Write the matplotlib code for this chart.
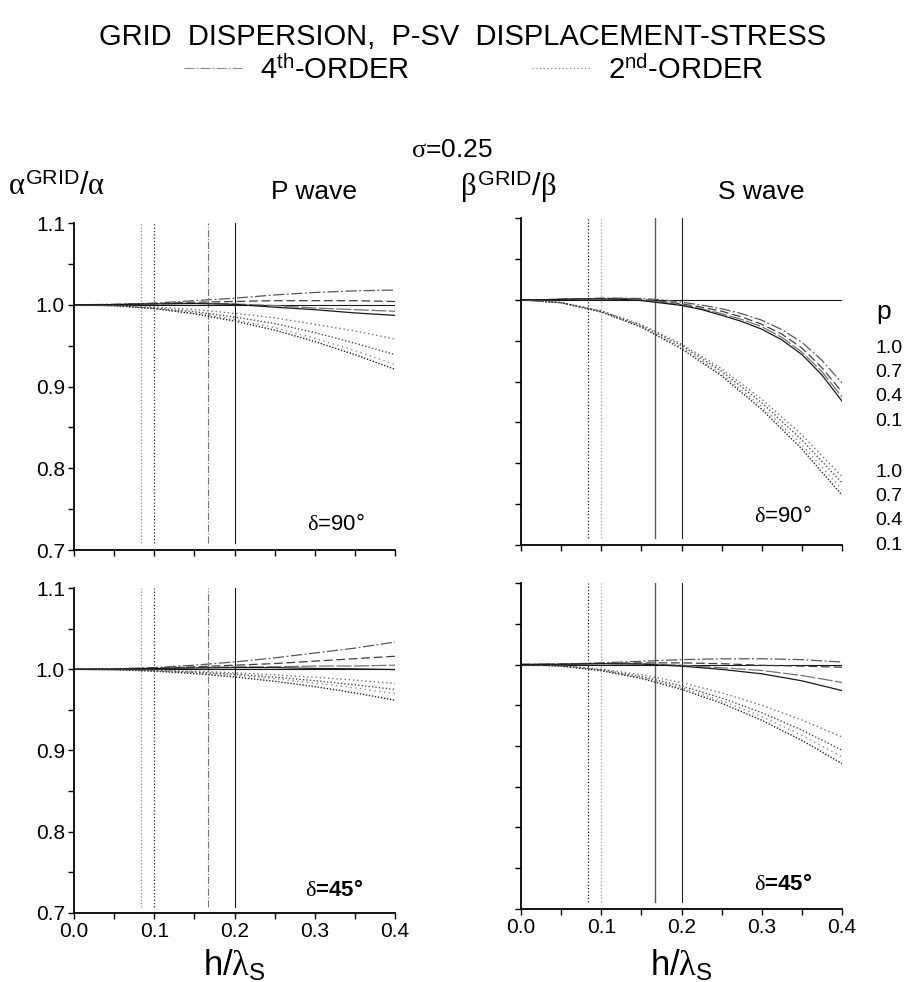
import matplotlib
matplotlib.use("Agg")
import matplotlib.pyplot as plt
from matplotlib.lines import Line2D
from matplotlib.ticker import MultipleLocator, FormatStrFormatter, NullFormatter

plt.rcParams["font.family"] = ["Liberation Sans", "DejaVu Sans"]
plt.rcParams["mathtext.fontset"] = "custom"
plt.rcParams["mathtext.rm"] = "Liberation Sans"
plt.rcParams["mathtext.it"] = "Liberation Serif"
plt.rcParams["mathtext.bf"] = "Liberation Sans:bold"

# ---------------------------------------------------------------- data
# normalised grid spacing h / lambda_S
h_coarse = [0.00, 0.05, 0.10, 0.15, 0.20, 0.25, 0.30, 0.35, 0.40]
h_fine = [0.000, 0.025, 0.050, 0.075, 0.100, 0.125, 0.150, 0.175, 0.200,
          0.225, 0.250, 0.275, 0.300, 0.325, 0.350, 0.375, 0.400]

p_values = ["1.0", "0.7", "0.4", "0.1"]

# sampling marks: 12, 10, 6 and 5 grid points per wavelength
ppw_marks = [0.0833, 0.1000, 0.1667, 0.2000]

# P wave, delta = 90 deg
p90_4th = [
    [1.0, 1.0005, 1.002, 1.005, 1.008, 1.012, 1.015, 1.017, 1.018],
    [1.0, 1.0003, 1.0015, 1.003, 1.004, 1.005, 1.005, 1.005, 1.004],
    [1.0, 1.0002, 1.001, 1.002, 1.001, 0.999, 0.996, 0.994, 0.992],
    [1.0, 1.0002, 1.001, 1.0015, 1.0005, 0.997, 0.994, 0.990, 0.987],
]
p90_2nd = [
    [1.0, 0.9993, 0.9974, 0.9941, 0.9895, 0.984, 0.976, 0.968, 0.958],
    [1.0, 0.9990, 0.9960, 0.9915, 0.9850, 0.977, 0.966, 0.953, 0.939],
    [1.0, 0.9988, 0.9955, 0.9900, 0.9820, 0.972, 0.959, 0.944, 0.927],
    [1.0, 0.9988, 0.9952, 0.9890, 0.9800, 0.969, 0.955, 0.939, 0.921],
]

# S wave, delta = 90 deg
s90_4th = [
    [1.0, 1.0, 1.0005, 1.001, 1.002, 1.002, 1.0015, 1.000, 0.997,
     0.9935, 0.989, 0.983, 0.975, 0.9635, 0.948, 0.926, 0.898],
    [1.0, 1.0, 1.0005, 1.001, 1.0015, 1.0015, 1.0005, 0.998, 0.995,
     0.991, 0.986, 0.979, 0.970, 0.958, 0.941, 0.917, 0.887],
    [1.0, 1.0, 1.0005, 1.001, 1.001, 1.001, 0.9995, 0.997, 0.994,
     0.989, 0.983, 0.976, 0.967, 0.954, 0.936, 0.912, 0.881],
    [1.0, 1.0, 1.0005, 1.001, 1.001, 1.0005, 0.999, 0.996, 0.993,
     0.988, 0.981, 0.9735, 0.964, 0.951, 0.933, 0.908, 0.876],
]
s90_2nd = [
    [1.0, 0.9966, 0.9865, 0.9696, 0.946, 0.9156, 0.8785, 0.8346, 0.784],
    [1.0, 0.9965, 0.9860, 0.9685, 0.944, 0.9125, 0.8740, 0.8285, 0.776],
    [1.0, 0.9964, 0.9855, 0.9674, 0.942, 0.9094, 0.8695, 0.8224, 0.768],
    [1.0, 0.9963, 0.9851, 0.9665, 0.940, 0.9069, 0.8659, 0.8175, 0.761],
]

# P wave, delta = 45 deg
p45_4th = [
    [1.0, 1.0005, 1.002, 1.005, 1.009, 1.014, 1.020, 1.026, 1.0335],
    [1.0, 1.0004, 1.0015, 1.003, 1.005, 1.007, 1.010, 1.013, 1.016],
    [1.0, 1.0003, 1.001, 1.002, 1.003, 1.003, 1.004, 1.004, 1.005],
    [1.0, 1.0003, 1.001, 1.0015, 1.002, 1.002, 1.001, 1.0005, 0.9996],
]
p45_2nd = [
    [1.0, 0.9997, 0.9989, 0.9975, 0.9956, 0.9932, 0.9902, 0.9866, 0.9825],
    [1.0, 0.9996, 0.9984, 0.9965, 0.9938, 0.9903, 0.9860, 0.9809, 0.975],
    [1.0, 0.9995, 0.9981, 0.9958, 0.9925, 0.9883, 0.9831, 0.9770, 0.970],
    [1.0, 0.9994, 0.9976, 0.9947, 0.9905, 0.9852, 0.9786, 0.9709, 0.962],
]

# S wave, delta = 45 deg
s45_4th = [
    [1.0, 1.0005, 1.002, 1.004, 1.006, 1.007, 1.007, 1.006, 1.003],
    [1.0, 1.0004, 1.0015, 1.002, 1.002, 1.001, 0.999, 0.998, 0.9967],
    [1.0, 1.0003, 1.001, 1.001, 0.999, 0.996, 0.9927, 0.9865, 0.978],
    [1.0, 1.0003, 1.001, 1.0005, 0.998, 0.994, 0.9886, 0.980, 0.968],
]
s45_2nd = [
    [1.0, 0.9986, 0.9944, 0.9875, 0.9778, 0.9653, 0.9500, 0.9319, 0.911],
    [1.0, 0.9984, 0.9934, 0.9852, 0.9737, 0.9589, 0.9409, 0.9195, 0.8949],
    [1.0, 0.9982, 0.9929, 0.9840, 0.9716, 0.9557, 0.9362, 0.9131, 0.8866],
    [1.0, 0.9981, 0.9924, 0.9829, 0.9696, 0.9525, 0.9316, 0.9069, 0.8784],
]

# ---------------------------------------------------------------- styles
FOURTH_STYLES = [
    dict(ls=(0, (9, 2, 1.5, 2)), color="0.35"),
    dict(ls=(0, (7, 3)), color="0.25"),
    dict(ls=(0, (12, 2)), color="0.45"),
    dict(ls="-", color="0.1"),
]
SECOND_STYLES = [
    dict(ls=(0, (1, 2)), color="0.45"),
    dict(ls=(0, (1, 1.5)), color="0.3"),
    dict(ls=(0, (1, 2.5)), color="0.55"),
    dict(ls=(0, (1, 1.2)), color="0.15"),
]
VLINES_P = [(":", "0.55", 0.9), (":", "0.15", 0.9), ("-.", "0.45", 0.8), ("-", "0.1", 0.8)]
VLINES_S = [(":", "0.1", 0.9), (":", "0.6", 0.9), ("-", "0.35", 1.0), ("-", "0.15", 0.8)]

W, H = 905, 982
fig = plt.figure(figsize=(W / 100, H / 100), dpi=100)


def px(x, y):
    return x / W, 1 - y / H


def make_axes(left, top, right, bottom):
    x0, y1 = px(left, top)
    x1, y0 = px(right, bottom)
    return fig.add_axes([x0, y0, x1 - x0, y1 - y0])


def draw_panel(ax, h4, fourth, h2, second, vstyles, show_ylabels, show_xlabels):
    ax.set_xlim(0, 0.4)
    ax.set_ylim(0.7, 1.1)
    for x, (ls, c, lw) in zip(ppw_marks, vstyles):
        ax.axvline(x, ymin=0.02, ymax=1.0, ls=ls, color=c, lw=lw)
    ax.axhline(1.0, color="0.1", lw=0.8)
    for ys, st in zip(second, SECOND_STYLES):
        ax.plot(h2, ys, lw=1.0, **st)
    for ys, st in zip(fourth, FOURTH_STYLES):
        ax.plot(h4, ys, lw=0.9, **st)
    for s in ("top", "right"):
        ax.spines[s].set_visible(False)
    for s in ("left", "bottom"):
        ax.spines[s].set_linewidth(1.3)
    ax.xaxis.set_major_locator(MultipleLocator(0.1))
    ax.xaxis.set_minor_locator(MultipleLocator(0.05))
    ax.yaxis.set_major_locator(MultipleLocator(0.1))
    ax.yaxis.set_minor_locator(MultipleLocator(0.05))
    ax.tick_params(which="both", direction="out", length=4.5, width=1.0,
                   labelsize=15, pad=2)
    ax.xaxis.set_major_formatter(FormatStrFormatter("%.1f") if show_xlabels else NullFormatter())
    ax.yaxis.set_major_formatter(FormatStrFormatter("%.1f") if show_ylabels else NullFormatter())


ax_tl = make_axes(74, 223, 395, 550)
ax_tr = make_axes(521, 218, 842, 545)
ax_bl = make_axes(74, 588, 395, 913)
ax_br = make_axes(521, 583, 842, 909)

draw_panel(ax_tl, h_coarse, p90_4th, h_coarse, p90_2nd, VLINES_P, True, False)
draw_panel(ax_tr, h_fine, s90_4th, h_coarse, s90_2nd, VLINES_S, False, False)
draw_panel(ax_bl, h_coarse, p45_4th, h_coarse, p45_2nd, VLINES_P, True, True)
draw_panel(ax_br, h_coarse, s45_4th, h_coarse, s45_2nd, VLINES_S, False, True)

# ---------------------------------------------------------------- texts
fig.text(*px(463, 37), "GRID  DISPERSION,  P-SV  DISPLACEMENT-STRESS",
         ha="center", va="center", fontsize=21)

handles = [Line2D([], [], ls=(0, (9, 2, 1.5, 2)), color="0.55", lw=0.8),
           Line2D([], [], ls=(0, (1, 2)), color="0.55", lw=0.9)]
fig.legend(handles, [r"4$^{\mathrm{th}}$-ORDER", r"2$^{\mathrm{nd}}$-ORDER"],
           loc="center", bbox_to_anchor=px(474, 70), ncol=2, frameon=False,
           fontsize=21, handlelength=2.0, handletextpad=0.6, columnspacing=4.2)

fig.text(*px(452, 150), r"$\sigma$=0.25", ha="center", va="center", fontsize=19)
fig.text(*px(8, 187), r"$\alpha^{\mathrm{GRID}}/\alpha$", ha="left", va="center", fontsize=22)
fig.text(*px(460, 187), r"$\beta^{\mathrm{GRID}}/\beta$", ha="left", va="center", fontsize=22)
fig.text(*px(314, 192), "P wave", ha="center", va="center", fontsize=19)
fig.text(*px(761, 192), "S wave", ha="center", va="center", fontsize=19)

fig.text(*px(336, 524), r"$\delta$=90°", ha="center", va="center", fontsize=16)
fig.text(*px(783, 517), r"$\delta$=90°", ha="center", va="center", fontsize=16)
fig.text(*px(334, 890), r"$\delta$=45°", ha="center", va="center", fontsize=16, fontweight="bold")
fig.text(*px(783, 885), r"$\delta$=45°", ha="center", va="center", fontsize=16, fontweight="bold")

fig.text(*px(234, 965), r"$\mathrm{h}/\lambda_{\mathrm{S}}$", ha="center", va="center", fontsize=25)
fig.text(*px(681, 965), r"$\mathrm{h}/\lambda_{\mathrm{S}}$", ha="center", va="center", fontsize=25)

# p key to the right of the S-wave panel
fig.text(*px(876, 312), "p", ha="left", va="center", fontsize=19)
for i, p in enumerate(p_values):
    fig.text(*px(875, 348 + 24.4 * i), p, ha="left", va="center", fontsize=14)
    fig.text(*px(875, 472 + 24.4 * i), p, ha="left", va="center", fontsize=14)

fig.savefig("out.png", dpi=100)
